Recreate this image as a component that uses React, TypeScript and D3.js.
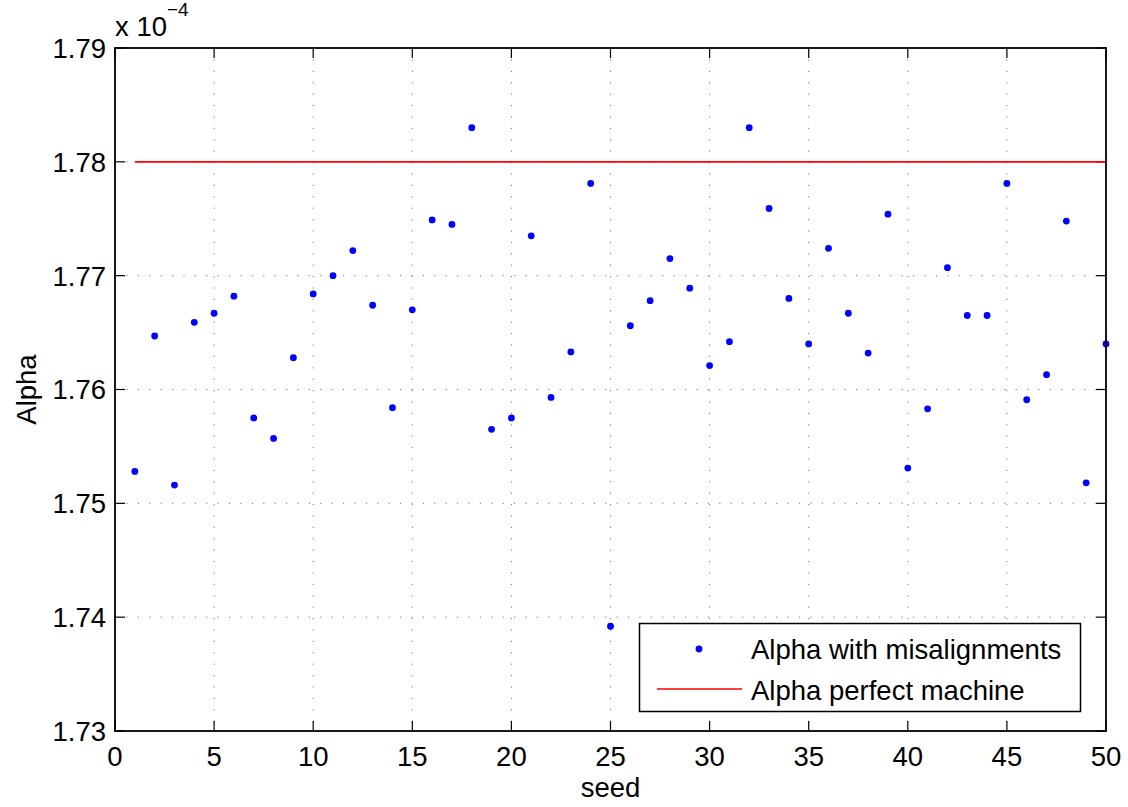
import React from "react";
import * as d3 from "d3";

const seeds = d3.range(1, 51);
const alphaMis = [
  1.7528, 1.7647, 1.7516, 1.7659, 1.7667, 1.7682, 1.7575, 1.7557, 1.7628, 1.7684,
  1.7700, 1.7722, 1.7674, 1.7584, 1.7670, 1.7749, 1.7745, 1.7830, 1.7565, 1.7575,
  1.7735, 1.7593, 1.7633, 1.7781, 1.7392, 1.7656, 1.7678, 1.7715, 1.7689, 1.7621,
  1.7642, 1.7830, 1.7759, 1.7680, 1.7640, 1.7724, 1.7667, 1.7632, 1.7754, 1.7531,
  1.7583, 1.7707, 1.7665, 1.7665, 1.7781, 1.7591, 1.7613, 1.7748, 1.7518, 1.7640,
];
const alphaPerfect = 1.78;
const xTicks = [0, 5, 10, 15, 20, 25, 30, 35, 40, 45, 50];
const yTicks = [1.73, 1.74, 1.75, 1.76, 1.77, 1.78, 1.79];
const legendLabels = ["Alpha with misalignments", "Alpha perfect machine"];

const W = 1128, H = 807;
const L = 115, R = 1106, T = 48, B = 731;
const FONT = "'Liberation Sans', Arial, Helvetica, sans-serif";
const FS = 27.5;

export default function App() {
  const x = d3.scaleLinear().domain([0, 50]).range([L, R]);
  const y = d3.scaleLinear().domain([1.73, 1.79]).range([B, T]);
  const tickLen = 10;
  const line = d3.line<number>().x((d) => x(d)).y(() => y(alphaPerfect));

  return (
    <svg width={W} height={H} style={{ position: "absolute", left: 0, top: 0, background: "#fff" }}
      fontFamily={FONT}>
      <rect x={0} y={0} width={W} height={H} fill="#fff" />
      {/* grid */}
      {xTicks.slice(1, -1).map((t) => (
        <line key={"gx" + t} x1={x(t)} x2={x(t)} y1={T} y2={B} stroke="#777" strokeWidth={1}
          strokeDasharray="1.2,10.2" />
      ))}
      {yTicks.slice(1, -1).map((t) => (
        <line key={"gy" + t} x1={L} x2={R} y1={y(t)} y2={y(t)} stroke="#777" strokeWidth={1}
          strokeDasharray="1.2,10.2" />
      ))}
      {/* ticks */}
      {xTicks.map((t) => (
        <g key={"tx" + t}>
          <line x1={x(t)} x2={x(t)} y1={B} y2={B - tickLen} stroke="#000" strokeWidth={1.2} />
          <line x1={x(t)} x2={x(t)} y1={T} y2={T + tickLen} stroke="#000" strokeWidth={1.2} />
          <text x={x(t)} y={766} textAnchor="middle" fontSize={FS} fill="#000">{t}</text>
        </g>
      ))}
      {yTicks.map((t) => (
        <g key={"ty" + t}>
          <line x1={L} x2={L + tickLen} y1={y(t)} y2={y(t)} stroke="#000" strokeWidth={1.2} />
          <line x1={R} x2={R - tickLen} y1={y(t)} y2={y(t)} stroke="#000" strokeWidth={1.2} />
          <text x={106} y={y(t)} dy="0.36em" textAnchor="end" fontSize={FS} fill="#000">{t.toFixed(2)}</text>
        </g>
      ))}
      {/* red line */}
      <path d={line([1, 50]) || ""} stroke="#ff0000" strokeWidth={1.6} fill="none" />
      {/* points */}
      {seeds.map((s, i) => (
        <circle key={"p" + s} cx={x(s)} cy={y(alphaMis[i])} r={3.4} fill="#0000ff" />
      ))}
      {/* axes box */}
      <rect x={L} y={T} width={R - L} height={B - T} fill="none" stroke="#000" strokeWidth={1.8} />
      {/* exponent */}
      <text x={115} y={36} fontSize={FS} fill="#000">x 10</text>
      <text x={167} y={16} fontSize={19} fill="#000">−4</text>
      {/* axis labels */}
      <text x={(L + R) / 2} y={797} textAnchor="middle" fontSize={FS} fill="#000">seed</text>
      <text transform={`translate(36, ${(T + B) / 2}) rotate(-90)`} textAnchor="middle" fontSize={FS}
        fill="#000">Alpha</text>
      {/* legend */}
      <rect x={639.5} y={623.5} width={441} height={88} fill="#fff" stroke="#000" strokeWidth={1.5} />
      <circle cx={699} cy={649} r={3.4} fill="#0000ff" />
      <line x1={657} x2={742} y1={689} y2={689} stroke="#ff0000" strokeWidth={1.6} />
      <text x={751} y={659} fontSize={FS} fill="#000">{legendLabels[0]}</text>
      <text x={751} y={700} fontSize={FS} fill="#000">{legendLabels[1]}</text>
    </svg>
  );
}
